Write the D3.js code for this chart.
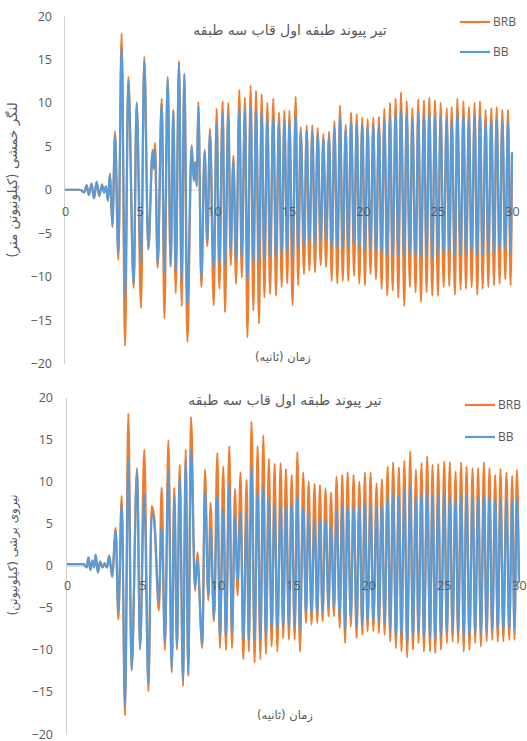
<!DOCTYPE html>
<html><head><meta charset="utf-8">
<script src="https://cdn.jsdelivr.net/npm/d3@7"></script>
<style>
body{margin:0;background:#fff;}
svg{display:block;}
</style></head>
<body>
<svg id="c" width="527" height="741"></svg>
<script>
// ---------- DATA ----------
const yTicks = [-20,-15,-10,-5,0,5,10,15,20];
const xTicks = [0,5,10,15,20,25,30];
const seriesNames = ["BRB","BB"];
const chartTitle = "تیر پیوند طبقه اول قاب سه طبقه";
const xTitle = "زمان (ثانیه)";
const yTitleTop = "لنگر خمشی (کیلونیوتن متر)";
const yTitleBottom = "نیروی برشی (کیلونیوتن)";

// top panel: bending moment (time of each extreme, BRB value, BB value)
const topTime = [0,1.0,1.3,1.45,1.6,1.78,1.95,2.12,2.3,2.48,2.62,2.75,2.88,3.02,3.18,3.36,3.58,3.80,4.03,4.25,4.61,4.81,5.10,5.32,5.59,5.88,5.95,6.04,6.22,6.49,6.67,6.89,7.09,7.27,7.43,7.65,7.83,8.01,8.21,8.50,8.64,8.74,8.84,8.95,9.15,9.37,9.55,9.73,9.98,10.18,10.36,10.58,10.74,10.96,11.12,11.30,11.48,11.70,11.86,12.08,12.24,12.46,12.64,12.82,13.02,13.20,13.38,13.58,13.76,13.98,14.16,14.36,14.54,14.72,14.92,15.06,15.27,15.48,15.65,15.82,16.04,16.22,16.40,16.60,16.78,16.96,17.16,17.34,17.52,17.72,17.90,18.08,18.28,18.46,18.64,18.84,19.01,19.20,19.40,19.58,19.75,19.95,20.13,20.31,20.50,20.69,20.87,21.07,21.25,21.43,21.63,21.81,21.99,22.19,22.37,22.55,22.77,22.93,23.15,23.31,23.53,23.71,23.89,24.09,24.27,24.45,24.65,24.83,25.03,25.21,25.41,25.62,25.79,25.95,26.17,26.33,26.55,26.74,26.91,27.11,27.29,27.49,27.67,27.85,28.03,28.23,28.41,28.61,28.79,28.97,29.17,29.35,29.55,29.73,29.91,30.0];
const topBRB = [0,0,-0.3,0.5,-0.6,0.7,-1.0,0.9,-0.7,0.6,-0.3,0.4,-1.3,1.9,-4.3,6.7,-8.1,18.0,-18.0,13.0,-11.3,10.1,-13.6,15.3,-6.9,4.6,2.6,5.4,-9.0,10.5,-14.8,13.0,-8.9,9.2,-11.9,14.8,-13.4,13.4,-17.5,5.1,1.2,3.2,0.5,10.1,-11.2,4.6,-6.5,7.0,-13.3,9.3,-11.4,10.2,-14.1,10.0,-8.7,3.9,-10.8,11.5,-10.1,10.6,-17.0,12.0,-13.9,11.4,-15.4,11.0,-12.4,10.0,-12.0,10.5,-12.2,8.9,-11.2,9.1,-10.8,9.1,-13.3,10.7,-11.0,7.2,-9.7,7.4,-9.3,7.4,-9.5,7.1,-8.7,6.4,-8.9,6.7,-10.5,7.9,-10.8,9.7,-10.5,7.5,-10.5,8.9,-9.9,8.7,-10.8,8.3,-11.0,8.1,-9.7,8.3,-10.3,8.4,-11.4,9.3,-12.2,10.0,-11.6,10.5,-12.4,11.2,-13.4,10.2,-11.2,9.4,-11.8,10.4,-12.9,10.3,-11.8,10.6,-12.2,10.3,-12.2,10.0,-11.2,9.4,-11.1,9.5,-12.1,10.5,-11.5,10.2,-11.4,9.5,-11.2,10.0,-12.1,10.2,-11.4,9.2,-11.2,9.4,-11.0,9.5,-10.8,9.2,-10.3,9.2,-11.0,4.3];
const topBB = [0,0,-0.3,0.5,-0.6,0.7,-1.0,0.9,-0.7,0.6,-0.3,0.4,-1.2,1.8,-4.1,6.2,-7.3,16.4,-12.4,12.6,-10.9,9.9,-8.3,14.8,-6.7,4.4,2.4,4.6,-8.6,9.9,-9.5,12.7,-8.6,9.0,-9.5,14.5,-10.5,13.2,-13.4,5.0,1.0,3.0,0.4,9.6,-10.1,4.3,-6.0,6.5,-9.0,7.6,-8.5,8.8,-8.8,8.6,-6.8,3.3,-8.0,9.4,-7.8,9.3,-10.5,9.5,-8.6,9.2,-8.2,9.0,-8.0,8.2,-7.6,8.4,-7.8,7.7,-7.4,7.9,-7.2,7.9,-7.8,8.6,-6.8,6.6,-6.4,6.8,-6.0,6.6,-6.2,6.5,-5.8,5.9,-5.6,6.1,-6.6,7.2,-6.8,8.5,-6.6,7.0,-6.6,7.8,-6.2,7.6,-6.6,7.4,-7.0,7.2,-6.8,7.4,-7.0,7.4,-7.4,8.0,-7.6,8.4,-7.4,8.8,-7.6,9.2,-7.8,8.6,-7.4,8.2,-7.6,8.8,-7.8,8.7,-7.6,8.8,-7.8,8.6,-7.6,8.4,-7.4,8.1,-7.2,8.0,-7.6,8.8,-7.4,8.6,-7.4,8.1,-7.2,8.4,-7.6,8.6,-7.4,7.9,-7.2,8.0,-7.2,8.1,-7.0,7.9,-6.8,7.8,-7.2,4.3];

// bottom panel: shear force
const botTime = [0,1.1,1.3,1.42,1.55,1.68,1.8,1.9,2.05,2.2,2.35,2.5,2.65,2.8,3.0,3.23,3.41,3.63,3.85,4.07,4.29,4.65,4.85,5.13,5.40,5.62,5.78,6.10,6.28,6.50,6.73,6.95,7.12,7.30,7.48,7.70,7.88,8.05,8.23,8.50,8.65,8.98,9.16,9.38,9.53,9.75,9.98,10.15,10.37,10.55,10.77,10.95,11.15,11.32,11.52,11.70,11.92,12.07,12.25,12.45,12.65,12.83,13.03,13.20,13.40,13.58,13.78,13.96,14.18,14.35,14.53,14.73,14.91,15.11,15.29,15.46,15.68,15.86,16.04,16.23,16.43,16.61,16.79,16.96,17.16,17.36,17.52,17.72,17.89,18.10,18.27,18.46,18.62,18.84,19.02,19.22,19.40,19.60,19.77,19.95,20.15,20.33,20.55,20.70,20.90,21.08,21.28,21.45,21.65,21.83,22.03,22.20,22.39,22.58,22.78,22.96,23.16,23.33,23.53,23.69,23.91,24.09,24.26,24.44,24.64,24.82,25.04,25.21,25.41,25.59,25.79,25.96,26.16,26.33,26.52,26.71,26.92,27.09,27.29,27.47,27.67,27.85,28.04,28.22,28.42,28.59,28.77,28.96,29.17,29.35,29.55,29.70,29.86,30.0];
const botBRB = [0.2,0.2,-0.2,1.0,-0.5,0.6,-0.2,1.3,-0.8,0.5,-0.2,0.3,-0.2,1.2,-1.3,4.5,-6.4,8.3,-17.8,18.1,-12.5,11.6,-10.0,13.8,-14.9,7.1,5.8,-5.3,9.3,-10.0,14.9,-12.7,9.3,-10.0,12.0,-14.3,13.8,-13.1,17.7,-3.0,1.6,-9.8,11.4,-4.1,7.5,-6.6,13.4,-9.8,11.8,-10.0,14.2,-9.8,9.1,-3.5,11.1,-11.1,10.2,-10.2,17.1,-11.5,14.2,-11.1,15.5,-10.5,12.7,-9.6,12.1,-10.2,12.2,-8.6,11.5,-8.8,10.8,-8.8,13.5,-10.2,11.1,-6.8,10.0,-7.0,9.7,-6.8,9.6,-6.6,9.2,-6.0,8.7,-6.0,10.6,-7.4,10.8,-9.2,11.1,-7.2,10.8,-8.6,10.0,-8.2,11.1,-7.8,11.1,-7.8,9.8,-8.0,10.3,-8.2,11.8,-9.0,12.3,-9.8,11.7,-10.2,12.5,-10.9,13.6,-10.0,11.4,-9.2,12.2,-10.2,13.0,-10.2,12.0,-10.4,12.1,-10.0,12.4,-9.2,12.3,-9.0,11.2,-9.2,12.3,-10.2,11.8,-10.0,11.6,-9.2,11.6,-9.6,12.3,-9.0,11.6,-8.8,10.8,-9.0,11.5,-9.0,11.1,-8.8,10.7,-8.8,11.4,-2.0];
const botBB = [0.2,0.2,-0.2,1.0,-0.5,0.6,-0.2,1.3,-0.8,0.5,-0.2,0.3,-0.2,1.2,-1.3,4.2,-5.5,7.3,-16.6,12.8,-12.3,11.3,-9.7,8.5,-14.0,6.2,5.5,-4.2,4.6,-9.0,11.4,-12.3,8.0,-9.6,10.6,-13.7,12.5,-12.8,13.8,-2.6,0.6,-9.4,8.9,-3.5,4.5,-6.2,8.5,-8.4,6.7,-8.4,9.8,-8.0,5.9,-1.9,6.3,-8.8,6.1,-8.8,12.0,-8.8,8.9,-8.8,9.6,-8.4,8.1,-7.4,7.1,-7.6,7.1,-7.2,7.1,-7.2,7.3,-7.2,8.5,-7.8,6.9,-5.6,6.1,-5.6,5.3,-5.6,5.5,-5.5,5.4,-4.9,4.7,-4.9,6.5,-6.0,7.3,-7.6,7.1,-6.0,7.1,-7.2,7.1,-7.0,7.5,-6.6,7.1,-6.6,7.1,-6.6,7.1,-6.8,8.1,-7.6,8.7,-8.4,8.3,-8.4,8.9,-9.2,9.6,-8.4,8.1,-7.8,8.7,-8.6,8.9,-8.6,8.3,-8.8,8.5,-8.4,8.5,-7.8,8.1,-7.6,7.9,-7.8,8.5,-8.6,8.5,-8.4,8.1,-8.0,8.1,-8.2,8.5,-7.8,8.3,-7.6,7.9,-7.6,7.9,-7.6,7.9,-7.6,7.7,-7.6,8.1,-2.0];

// ---------- DRAW ----------
const colors = {BRB:"#ED7D31", BB:"#5B9BD5"};
const svg = d3.select("#c");
const persian = "'DejaVu Sans', 'Noto Sans', sans-serif";
const latin = "'Open Sans', 'Liberation Sans', sans-serif";

function panel(cfg){
  const x = d3.scaleLinear().domain([0,30]).range(cfg.xr);
  const y = d3.scaleLinear().domain([-20,20]).range(cfg.yr);
  const g = svg.append("g");

  // y axis
  const ya = g.append("g").attr("transform",`translate(${cfg.xr[0]-1},0)`)
    .call(d3.axisLeft(y).tickValues(yTicks).tickSize(0).tickSizeOuter(0).tickPadding(cfg.yPad));
  ya.select(".domain").attr("stroke","#d0d0d0").attr("stroke-width",1);
  ya.selectAll("text").attr("font-family",latin).attr("font-size",12.5).attr("fill","#595959");

  // zero line domain (drawn below the series)
  const xDom = g.append("g").attr("transform",`translate(0,${y(0)})`)
    .call(d3.axisBottom(x).tickValues(xTicks).tickSize(0).tickSizeOuter(0).tickFormat(""));
  xDom.select(".domain").attr("stroke","#d9d9d9").attr("stroke-width",1);

  const line = d3.line().x(d=>x(d[0])).y(d=>y(d[1])).curve(d3.curveMonotoneX);
  [["BRB",cfg.brb],["BB",cfg.bb]].forEach(([name,vals])=>{
    const pts = cfg.t.map((t,i)=>[t,vals[i]]);
    g.append("path").datum(pts).attr("d",line)
      .attr("fill","none").attr("stroke",colors[name])
      .attr("stroke-width",2.2).attr("stroke-linejoin","round");
  });

  // x tick labels drawn above the series
  const xa = g.append("g").attr("transform",`translate(0,${y(0)})`)
    .call(d3.axisBottom(x).tickValues(xTicks).tickSize(0).tickSizeOuter(0).tickPadding(cfg.xPad));
  xa.select(".domain").remove();
  xa.selectAll("text").attr("font-family",latin).attr("font-size",12.5).attr("fill","#595959");

  // title
  g.append("text").attr("x",cfg.titleX).attr("y",cfg.titleY).attr("text-anchor","middle")
    .attr("font-family",persian).attr("font-size",14).attr("fill","#595959").text(chartTitle);
  // x title
  g.append("text").attr("x",cfg.xtX).attr("y",cfg.xtY).attr("text-anchor","middle")
    .attr("font-family",persian).attr("font-size",11.5).attr("fill","#595959").text(xTitle);
  // y title
  g.append("text").attr("transform",`translate(${cfg.ytX},${cfg.ytY}) rotate(-90)`)
    .attr("text-anchor","middle").attr("font-family",persian).attr("font-size",cfg.ytSize)
    .attr("fill","#595959").text(cfg.yTitle);

  // legend
  seriesNames.forEach((name,i)=>{
    const ly = cfg.legY[i];
    g.append("line").attr("x1",cfg.legX).attr("x2",cfg.legX+30).attr("y1",ly).attr("y2",ly)
      .attr("stroke",colors[name]).attr("stroke-width",2.2);
    g.append("text").attr("x",cfg.legX+33).attr("y",ly).attr("dy","0.35em")
      .attr("font-family",latin).attr("font-size",12).attr("fill","#595959").text(name);
  });
}

panel({t:topTime, brb:topBRB, bb:topBB, xr:[65,512], yr:[363.5,16], yPad:12, xPad:17,
  titleX:290, titleY:35, xtX:283, xtY:361, ytX:17, ytY:180, ytSize:13.5, yTitle:yTitleTop,
  legX:460, legY:[22,52]});
panel({t:botTime, brb:botBRB, bb:botBB, xr:[67,519], yr:[734,397.5], yPad:13, xPad:15.5,
  titleX:285, titleY:405, xtX:285, xtY:719, ytX:17, ytY:555, ytSize:12, yTitle:yTitleBottom,
  legX:465, legY:[405,437]});
</script>
</body></html>
